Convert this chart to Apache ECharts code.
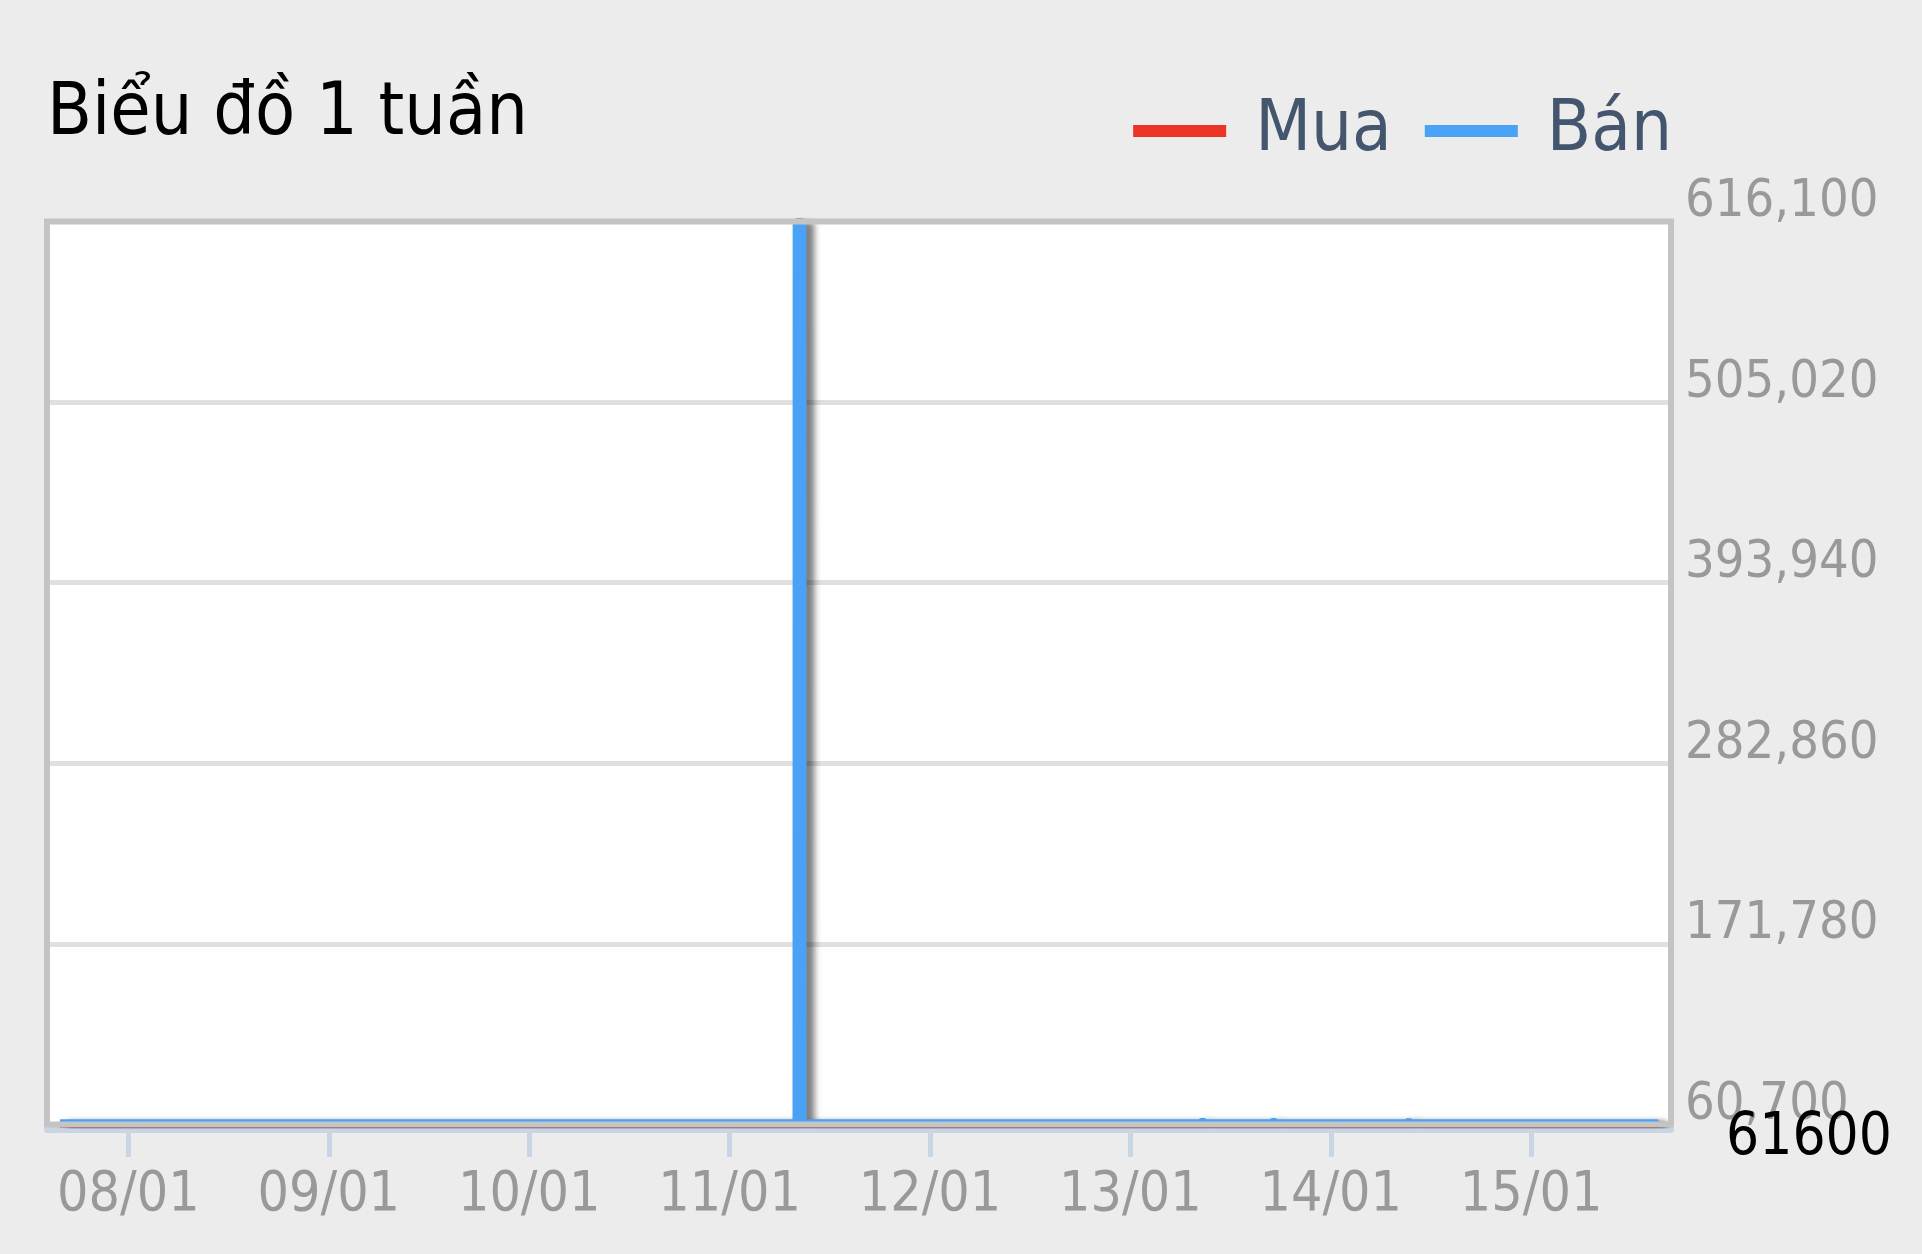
<!DOCTYPE html>
<html><head><meta charset="utf-8">
<script src="https://cdn.jsdelivr.net/npm/echarts@6/dist/echarts.min.js"></script>
<style>html,body{margin:0;padding:0;background:#ececec}#c{width:1922px;height:1254px}</style>
</head><body><div id="c"></div>
<script>
const FONT = "'DejaVu Sans Condensed','DejaVu Sans',sans-serif";
const titleText = 'Biểu đồ 1 tuần';
const seriesNames = ['Mua', 'Bán'];
const muaTimes = ['2025-01-07T15:48:00Z', '2025-01-14T09:00:00Z', '2025-01-14T09:20:00Z', '2025-01-14T09:40:00Z', '2025-01-15T15:13:00Z'];
const muaValues = [61000, 61000, 62600, 61000, 61000];
const banTimes = ['2025-01-07T15:48:00Z', '2025-01-11T07:59:00Z', '2025-01-11T08:00:00Z', '2025-01-11T08:45:00Z', '2025-01-11T08:46:00Z',
  '2025-01-13T08:20:00Z', '2025-01-13T08:40:00Z', '2025-01-13T09:00:00Z',
  '2025-01-13T16:50:00Z', '2025-01-13T17:10:00Z', '2025-01-13T17:30:00Z',
  '2025-01-14T09:00:00Z', '2025-01-14T09:20:00Z', '2025-01-14T09:40:00Z', '2025-01-15T15:13:00Z'];
const banValues = [61600, 61600, 616100, 616100, 61600,
  61600, 62800, 61600,
  61600, 62800, 61600,
  61600, 62400, 61600, 61600];
const xMin = '2025-01-07T14:15:00Z';
const xMax = '2025-01-15T16:45:00Z';
const yMin = 60700, yMax = 616100, yStep = 111080;
const lastPrice = 61600;

const pair = (t, v) => t.map((x, i) => [x, v[i]]);
const G = { left: 47, right: 251, top: 221.5, bottom: 129.5 };
const chart = echarts.init(document.getElementById('c'));
const shadow = { shadowColor: 'rgba(0,0,0,0.5)', shadowBlur: 6, shadowOffsetX: 8, shadowOffsetY: 3 };
chart.setOption({
  useUTC: true,
  backgroundColor: '#ececec',
  animation: false,
  title: { text: titleText, left: 42, top: 74, textStyle: { fontFamily: FONT, fontSize: 73, fontWeight: 'normal', color: '#000' } },
  legend: {
    right: 245, top: 90, itemWidth: 93, itemHeight: 12, itemGap: 33, icon: 'rect',
    textStyle: { fontFamily: FONT, fontSize: 72, color: '#44556e', padding: [0, 0, 0, 24] },
    data: seriesNames
  },
  grid: { left: G.left, right: G.right, top: G.top, bottom: G.bottom, show: true, backgroundColor: '#ffffff', borderWidth: 0 },
  xAxis: {
    type: 'time', min: xMin, max: xMax, offset: 5.5,
    minInterval: 86400000, maxInterval: 86400000,
    axisLine: { show: true, lineStyle: { color: '#c9d5e5', width: 6 } },
    axisTick: { show: true, length: 27, lineStyle: { color: '#c9d5e5', width: 5 } },
    axisLabel: {
      fontFamily: FONT, fontSize: 55, color: '#999999', margin: 38, hideOverlap: false,
      formatter: v => { const d = new Date(v); return String(d.getUTCDate()).padStart(2, '0') + '/' + String(d.getUTCMonth() + 1).padStart(2, '0'); }
    },
    splitLine: { show: false }
  },
  yAxis: {
    type: 'value', position: 'right', min: yMin, max: yMax, interval: yStep,
    axisLine: { show: false }, axisTick: { show: false },
    axisLabel: {
      fontFamily: FONT, fontSize: 52, color: '#999999', margin: 14, verticalAlign: 'bottom', lineHeight: 38,
      formatter: v => Math.round(v).toLocaleString('en-US')
    },
    splitLine: { show: true, lineStyle: { color: '#e0e0e0', width: 5 } }
  },
  series: [
    { name: seriesNames[0], type: 'line', data: pair(muaTimes, muaValues), showSymbol: false, symbol: 'none',
      color: '#ec3324', lineStyle: Object.assign({ width: 7.5, color: '#ec3324' }, shadow), z: 2 },
    { name: seriesNames[1], type: 'line', data: pair(banTimes, banValues), showSymbol: false, symbol: 'none',
      color: '#4aa2f7', lineStyle: Object.assign({ width: 7.5, color: '#4aa2f7' }, shadow), z: 3,
      markLine: {
        silent: true, symbol: 'none', animation: false,
        lineStyle: { color: 'rgba(0,0,0,0)', width: 1, shadowBlur: 0 },
        label: {
          show: true, position: 'end', distance: 55,
          formatter: () => '{p|' + String(lastPrice) + '}',
          rich: { p: { fontFamily: FONT, fontSize: 58, color: '#000', padding: [32, 0, 0, 0] } }
        },
        data: [{ yAxis: lastPrice }]
      }
    }
  ],
  graphic: [{
    type: 'rect', z: 100, silent: true,
    shape: { x: G.left, y: G.top, width: 1922 - G.left - G.right, height: 1254 - G.top - G.bottom },
    style: { fill: null, stroke: '#c4c4c4', lineWidth: 6 }
  }]
});
</script></body></html>
